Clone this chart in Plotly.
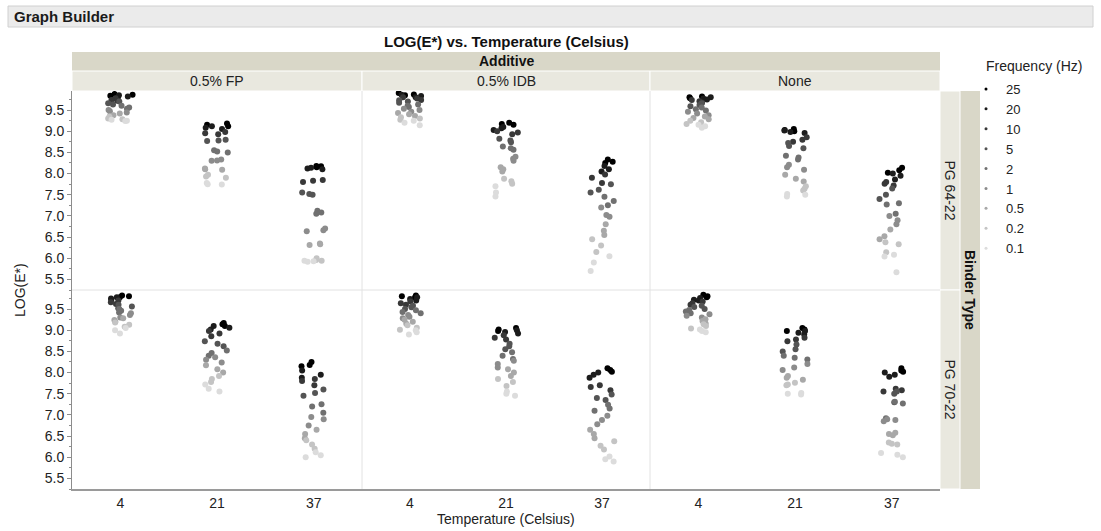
import math
import plotly.graph_objects as go

# ---- data -------------------------------------------------------------
temperatures = ["4", "21", "37"]
frequencies = ["25", "20", "10", "5", "2", "1", "0.5", "0.2", "0.1"]
additives = ["0.5% FP", "0.5% IDB", "None"]
binders = ["PG 64-22", "PG 70-22"]

# LOG(E*) per temperature, one triplet of replicates per frequency (25 ... 0.1 Hz)
fp_6422 = [
    [[9.88, 9.86, 9.84], [9.85, 9.82, 9.80], [9.78, 9.74, 9.72], [9.70, 9.66, 9.63], [9.60, 9.56, 9.53],
     [9.50, 9.47, 9.44], [9.42, 9.38, 9.36], [9.34, 9.30, 9.28], [9.27, 9.25, 9.24]],
    [[9.18, 9.15, 9.12], [9.12, 9.08, 9.05], [8.98, 8.95, 8.93], [8.80, 8.78, 8.77], [8.55, 8.52, 8.50],
     [8.33, 8.31, 8.30], [8.12, 8.10, 8.09], [7.97, 7.93, 7.90], [7.78, 7.75, 7.74]],
    [[8.18, 8.17, 8.15], [8.14, 8.12, 8.10], [7.85, 7.83, 7.80], [7.55, 7.52, 7.50], [7.12, 7.08, 7.05],
     [6.70, 6.66, 6.64], [6.35, 6.33, 6.31], [6.00, 5.96, 5.94], [5.94, 5.93, 5.92]],
]
idb_6422 = [
    [[9.90, 9.87, 9.85], [9.86, 9.83, 9.80], [9.80, 9.77, 9.74], [9.73, 9.70, 9.67], [9.63, 9.60, 9.57],
     [9.53, 9.50, 9.46], [9.43, 9.40, 9.36], [9.33, 9.30, 9.27], [9.25, 9.20, 9.14]],
    [[9.20, 9.17, 9.15], [9.10, 9.07, 9.03], [9.00, 8.97, 8.93], [8.82, 8.78, 8.74], [8.64, 8.60, 8.56],
     [8.40, 8.35, 8.30], [8.15, 8.10, 8.05], [7.88, 7.82, 7.76], [7.70, 7.55, 7.46]],
    [[8.33, 8.28, 8.25], [8.18, 8.10, 8.05], [7.98, 7.90, 7.78], [7.75, 7.62, 7.55], [7.45, 7.35, 7.25],
     [7.20, 7.02, 6.98], [6.80, 6.65, 6.55], [6.45, 6.30, 6.15], [6.05, 5.90, 5.70]],
]
none_6422 = [
    [[9.82, 9.80, 9.78], [9.80, 9.77, 9.75], [9.74, 9.71, 9.68], [9.66, 9.62, 9.59], [9.56, 9.52, 9.49],
     [9.46, 9.42, 9.38], [9.35, 9.31, 9.28], [9.25, 9.21, 9.17], [9.15, 9.12, 9.08]],
    [[9.05, 9.03, 9.00], [9.02, 8.98, 8.96], [8.86, 8.80, 8.75], [8.72, 8.65, 8.60], [8.42, 8.38, 8.33],
     [8.21, 8.15, 8.09], [7.97, 7.88, 7.81], [7.70, 7.64, 7.60], [7.52, 7.50, 7.46]],
    [[8.14, 8.08, 8.02], [8.00, 7.95, 7.86], [7.80, 7.76, 7.72], [7.65, 7.50, 7.40], [7.30, 7.27, 7.05],
     [7.00, 6.90, 6.80], [6.68, 6.52, 6.45], [6.38, 6.33, 6.14], [6.08, 6.04, 5.67]],
]
fp_7022 = [
    [[9.82, 9.80, 9.78], [9.78, 9.75, 9.72], [9.70, 9.66, 9.62], [9.60, 9.56, 9.52], [9.50, 9.46, 9.42],
     [9.40, 9.36, 9.30], [9.28, 9.24, 9.20], [9.18, 9.13, 9.08], [9.05, 9.00, 8.92]],
    [[9.17, 9.14, 9.10], [9.10, 9.06, 9.02], [8.98, 8.92, 8.86], [8.74, 8.68, 8.62], [8.52, 8.46, 8.40],
     [8.36, 8.30, 8.24], [8.17, 8.08, 8.00], [7.92, 7.85, 7.78], [7.72, 7.62, 7.55]],
    [[8.25, 8.18, 8.15], [8.05, 7.95, 7.88], [7.85, 7.80, 7.70], [7.60, 7.52, 7.45], [7.25, 7.20, 7.05],
     [6.95, 6.90, 6.75], [6.65, 6.55, 6.45], [6.40, 6.30, 6.20], [6.12, 6.05, 6.00]],
]
idb_7022 = [
    [[9.82, 9.80, 9.77], [9.78, 9.74, 9.70], [9.68, 9.64, 9.60], [9.58, 9.54, 9.50], [9.47, 9.43, 9.40],
     [9.36, 9.32, 9.28], [9.25, 9.20, 9.15], [9.12, 9.06, 9.01], [9.00, 8.95, 8.90]],
    [[9.05, 9.02, 8.98], [9.00, 8.96, 8.92], [8.88, 8.82, 8.78], [8.68, 8.62, 8.55], [8.48, 8.40, 8.32],
     [8.28, 8.20, 8.12], [8.08, 8.00, 7.92], [7.85, 7.78, 7.68], [7.55, 7.50, 7.45]],
    [[8.10, 8.06, 8.02], [8.00, 7.95, 7.88], [7.70, 7.66, 7.58], [7.48, 7.40, 7.35], [7.24, 7.15, 7.10],
     [6.98, 6.88, 6.78], [6.65, 6.55, 6.45], [6.38, 6.27, 6.18], [6.02, 5.95, 5.90]],
]
none_7022 = [
    [[9.84, 9.80, 9.78], [9.76, 9.72, 9.70], [9.68, 9.64, 9.60], [9.58, 9.55, 9.50], [9.48, 9.44, 9.40],
     [9.38, 9.34, 9.30], [9.26, 9.22, 9.16], [9.14, 9.10, 9.04], [9.02, 8.98, 8.95]],
    [[9.05, 9.02, 8.98], [8.98, 8.94, 8.90], [8.82, 8.78, 8.74], [8.66, 8.55, 8.50], [8.40, 8.35, 8.31],
     [8.20, 8.12, 8.06], [7.92, 7.88, 7.83], [7.76, 7.72, 7.70], [7.52, 7.50, 7.48]],
    [[8.10, 8.05, 8.02], [8.00, 7.95, 7.90], [7.62, 7.58, 7.55], [7.55, 7.50, 7.30], [7.31, 7.27, 6.92],
     [6.90, 6.88, 6.85], [6.58, 6.55, 6.52], [6.35, 6.32, 6.30], [6.10, 6.06, 6.00]],
]

panels = [[fp_6422, idb_6422, none_6422], [fp_7022, idb_7022, none_7022]]

# grey ramp, dark for high frequency
freq_colors = ["#000000", "#1c1c1c", "#383838", "#545454", "#707070",
               "#8c8c8c", "#a8a8a8", "#c4c4c4", "#dcdcdc"]

# ---- geometry (pixels on a 1101 x 531 page) ----------------------------
W, H = 1101, 531
FONT = "Liberation Sans, Arial, sans-serif"
col_px = [(72, 362), (362, 650), (650, 940)]
row_px = [(91, 290), (290, 489)]


def px(x):
    return x / W


def py(y):
    return 1 - y / H


def jitter(n, width=0.26):
    """Deterministic horizontal spread within a category band."""
    h = math.sin(n * 12.9898 + 78.233) * 43758.5453
    return (h - math.floor(h) - 0.5) * width


fig = go.Figure()
layout_axes = {}

for r in range(2):
    for c in range(3):
        idx = r * 3 + c + 1
        xa = "x" if idx == 1 else f"x{idx}"
        ya = "y" if idx == 1 else f"y{idx}"
        xkey = "xaxis" if idx == 1 else f"xaxis{idx}"
        ykey = "yaxis" if idx == 1 else f"yaxis{idx}"
        data = panels[r][c]
        for f_i, fq in enumerate(frequencies):
            xs, ys = [], []
            for t_i in range(3):
                for k, v in enumerate(data[t_i][f_i]):
                    n = idx * 1000 + t_i * 100 + f_i * 3 + k
                    xs.append(t_i + jitter(n))
                    ys.append(v)
            fig.add_trace(go.Scatter(
                x=xs, y=ys, mode="markers", xaxis=xa, yaxis=ya,
                marker=dict(size=6, color=freq_colors[f_i], line=dict(width=0)),
                name=fq, legendgroup=fq, showlegend=False,
                hovertemplate=f"{fq} Hz<br>%{{y:.2f}}<extra></extra>",
            ))
        bottom = r == 1
        layout_axes[xkey] = dict(
            domain=[px(col_px[c][0]), px(col_px[c][1])],
            anchor=ya, range=[-0.5, 2.5], tickvals=[0, 1, 2], ticktext=temperatures,
            showticklabels=bottom, ticks="", showgrid=False, zeroline=False,
            showline=bottom, linecolor="#9a9a9a", linewidth=2,
            tickfont=dict(family=FONT, size=14, color="#222222"), fixedrange=True,
        )
        left = c == 0
        layout_axes[ykey] = dict(
            domain=[py(row_px[r][1]), py(row_px[r][0])],
            anchor=xa, range=[5.25, 9.95], dtick=0.5, tick0=5.5, tickformat=".1f",
            showticklabels=left, ticks="outside" if left else "", ticklen=4,
            tickcolor="#8c8c8c", showgrid=False, zeroline=False,
            showline=left, linecolor="#8c8c8c", linewidth=1,
            minor=dict(ticks="outside" if left else "", dtick=0.25, ticklen=2, tickcolor="#8c8c8c"),
            tickfont=dict(family=FONT, size=14, color="#222222"), fixedrange=True,
        )

# legend entries: one small dot per frequency
for f_i, fq in enumerate(frequencies):
    fig.add_trace(go.Scatter(
        x=[None], y=[None], mode="markers", name=fq, legendgroup=fq,
        marker=dict(size=3, color=freq_colors[f_i]), showlegend=True,
    ))

shapes = []
annotations = []

# "Graph Builder" title bar
shapes.append(dict(type="rect", xref="paper", yref="paper", x0=px(8), x1=px(1093), y0=py(27), y1=py(6),
                   fillcolor="#ebebeb", line=dict(color="#d0d0d0", width=1), layer="below"))
annotations.append(dict(text="<b>Graph Builder</b>", x=px(12), y=py(16.5), xref="paper", yref="paper",
                        xanchor="left", yanchor="middle", showarrow=False,
                        font=dict(family=FONT, size=15, color="#1a1a1a")))

# chart title
annotations.append(dict(text="<b>LOG(E*) vs. Temperature (Celsius)</b>", x=px(506), y=py(41),
                        xref="paper", yref="paper", xanchor="center", yanchor="middle", showarrow=False,
                        font=dict(family=FONT, size=15, color="#111111")))

# column header bands
shapes.append(dict(type="rect", xref="paper", yref="paper", x0=px(72), x1=px(940), y0=py(71), y1=py(52),
                   fillcolor="#d9d7c8", line=dict(width=0), layer="below"))
annotations.append(dict(text="<b>Additive</b>", x=px(506), y=py(61.5), xref="paper", yref="paper",
                        xanchor="center", yanchor="middle", showarrow=False,
                        font=dict(family=FONT, size=14, color="#111111")))
for c, name in enumerate(additives):
    x0, x1 = col_px[c]
    shapes.append(dict(type="rect", xref="paper", yref="paper", x0=px(x0), x1=px(x1), y0=py(91), y1=py(71),
                       fillcolor="#e9e8df", line=dict(color="#ffffff", width=1), layer="below"))
    annotations.append(dict(text=name, x=px((x0 + x1) / 2), y=py(81), xref="paper", yref="paper",
                            xanchor="center", yanchor="middle", showarrow=False,
                            font=dict(family=FONT, size=14, color="#222222")))

# row header strips
shapes.append(dict(type="rect", xref="paper", yref="paper", x0=px(960), x1=px(980), y0=py(489), y1=py(91),
                   fillcolor="#d9d7c8", line=dict(width=0), layer="below"))
annotations.append(dict(text="<b>Binder Type</b>", x=px(970), y=py(290), xref="paper", yref="paper",
                        xanchor="center", yanchor="middle", showarrow=False, textangle=90,
                        font=dict(family=FONT, size=14, color="#111111")))
for r, name in enumerate(binders):
    y0, y1 = row_px[r]
    shapes.append(dict(type="rect", xref="paper", yref="paper", x0=px(940), x1=px(960), y0=py(y1), y1=py(y0),
                       fillcolor="#e9e8df", line=dict(color="#ffffff", width=1), layer="below"))
    annotations.append(dict(text=name, x=px(950), y=py((y0 + y1) / 2), xref="paper", yref="paper",
                            xanchor="center", yanchor="middle", showarrow=False, textangle=90,
                            font=dict(family=FONT, size=14, color="#222222")))

# panel separators
for xs in (362, 650):
    shapes.append(dict(type="line", xref="paper", yref="paper", x0=px(xs), x1=px(xs), y0=py(489), y1=py(91),
                       line=dict(color="#e2e2e2", width=1), layer="below"))
shapes.append(dict(type="line", xref="paper", yref="paper", x0=px(72), x1=px(940), y0=py(290), y1=py(290),
                   line=dict(color="#e2e2e2", width=1), layer="below"))

# axis titles and legend heading
annotations.append(dict(text="LOG(E*)", x=px(20), y=py(290), xref="paper", yref="paper",
                        xanchor="center", yanchor="middle", showarrow=False, textangle=-90,
                        font=dict(family=FONT, size=14, color="#222222")))
annotations.append(dict(text="Temperature (Celsius)", x=px(506), y=py(519), xref="paper", yref="paper",
                        xanchor="center", yanchor="middle", showarrow=False,
                        font=dict(family=FONT, size=14, color="#222222")))
annotations.append(dict(text="Frequency (Hz)", x=px(984), y=py(66), xref="paper", yref="paper",
                        xanchor="left", yanchor="middle", showarrow=False,
                        font=dict(family=FONT, size=14, color="#222222")))

fig.update_layout(
    width=W, height=H,
    margin=dict(l=0, r=0, t=0, b=0),
    paper_bgcolor="#ffffff", plot_bgcolor="#ffffff",
    showlegend=True,
    legend=dict(
        x=px(966), y=py(74), xanchor="left", yanchor="top",
        font=dict(family=FONT, size=13, color="#222222"),
        tracegroupgap=0, itemsizing="trace", bgcolor="rgba(0,0,0,0)",
    ),
    shapes=shapes, annotations=annotations,
    **layout_axes,
)

fig.write_html("out.html")
